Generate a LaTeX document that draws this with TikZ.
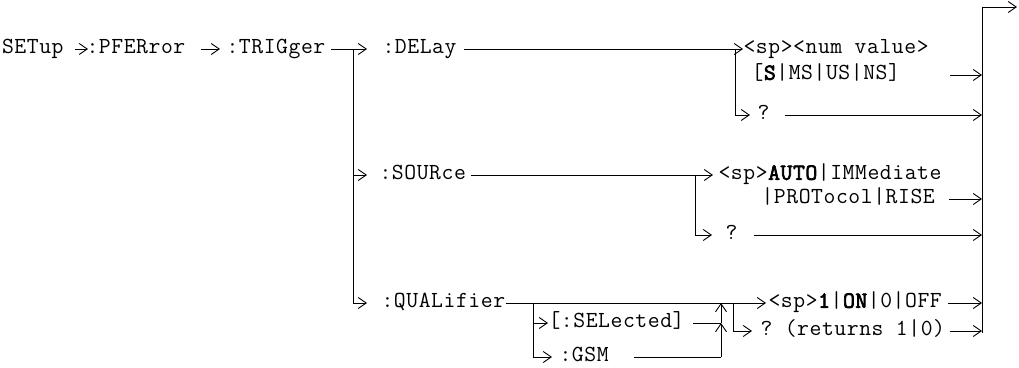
\documentclass[tikz,border=0pt]{standalone}
\usepackage{fontspec}
\setmonofont{Latin Modern Mono}[LetterSpace=2.5,AutoFakeBold=3]
\usetikzlibrary{arrows.meta}
\begin{document}
\begin{tikzpicture}[x=1pt,y=-1pt,line width=1pt,
  kw/.style={anchor=west,inner sep=0pt,text height=14pt,text depth=4.5pt,
    font=\ttfamily\fontsize{23}{26}\selectfont},
  arr/.style={-{Straight Barb[length=8pt,width=11pt,line width=0.9pt]}}]
\useasboundingbox (0,0) rectangle (1019,367);
% command words
\node[kw] (setup) at (1.5,49) {SETup};
\node[kw] (pferr) at (86,49) {:PFERror};
\node[kw] (trig) at (226,49) {:TRIGger};
\node[kw] (delay) at (382,49) {:DELay};
\node[kw] (source) at (379,175) {:SOURce};
\node[kw] (qual) at (381,303) {:QUALifier};
\node[kw] (sel) at (548,323) {[:SELected]};
\node[kw] (gsm) at (559,357) {:GSM};
% parameters
\node[kw] (numval) at (743,49) {<sp><num value>};
\node[kw] (units) at (751,75) {[\textbf{S}|MS|US|NS]};
\node[kw] (dq) at (757,115) {?};
\node[kw] (auto) at (718,175) {<sp>\textbf{AUTO}|IMMediate};
\node[kw] (proto) at (761,199) {|PROTocol|RISE};
\node[kw] (sq) at (725,235) {?};
\node[kw] (onoff) at (768,303) {<sp>\textbf{1}|\textbf{ON}|0|OFF};
\node[kw] (ret) at (760,331) {? (returns 1|0)};
% branch points and the bus
\coordinate (tj) at (353,49);
\coordinate (dj) at (735,49);
\coordinate (sj) at (695,175);
\coordinate (qa) at (533,303);
\coordinate (qm) at (721,303);
\coordinate (qr) at (733,303);
\coordinate (bt) at (982,7);
\coordinate (bb) at (982,333);
\coordinate (out) at (1017,7);
% path
\draw[arr,shorten <=11pt,shorten >=-2pt] (setup) -- (pferr);
\draw[arr,shorten <=15pt,shorten >=6pt] (pferr) -- (trig.west);
\draw[arr,shorten <=5pt,shorten >=15pt] (trig.east) -- (delay.west);
\draw (tj) -- (qual.west -| tj);
\draw[arr,shorten >=12pt] (source.west -| tj) -- (source.west);
\draw[arr,shorten >=14pt] (qual.west -| tj) -- (qual.west);
% :DELay
\draw[shorten <=7pt] (delay.east) -- (dj);
\draw[arr] (dj) -- (numval.west);
\draw (dj) -- (dq.west -| dj);
\draw[arr,shorten >=7pt] (dq.west -| dj) -- (dq.west);
% :SOURce
\draw[shorten <=5pt] (source.east) -- (sj);
\draw[arr,shorten >=5pt] (sj) -- (auto.west);
\draw (sj) -- (sq.west -| sj);
\draw[arr,shorten >=13pt] (sq.west -| sj) -- (sq.west);
% :QUALifier
\draw[arr,shorten >=2pt] (qual.east) -- (onoff.west);
\draw (qa) -- (gsm.west -| qa);
\draw[arr] (sel.west -| qa) -- (sel.west);
\draw[arr,shorten >=7pt] (gsm.west -| qa) -- (gsm.west);
\draw[shorten <=8pt] (sel.east) -- (sel.east -| qm);
\draw[shorten <=25pt] (gsm.east) -- (gsm.east -| qm);
\draw[arr] (gsm.east -| qm) -- (sel.east -| qm);
\draw[arr] (sel.east -| qm) -- (qm);
\draw (qr) -- (ret.west -| qr);
\draw[arr,shorten >=8pt] (ret.west -| qr) -- (ret.west);
% into the bus
\draw[arr,shorten <=50pt] (units.east) -- (units.east -| bb);
\draw[arr,shorten <=15pt] (dq.east) -- (dq.east -| bb);
\draw[arr,shorten <=14pt] (proto.east) -- (proto.east -| bb);
\draw[arr,shorten <=16pt] (sq.east) -- (sq.east -| bb);
\draw[arr,shorten <=6pt] (onoff.east) -- (onoff.east -| bb);
\draw[arr,shorten <=4pt] (ret.east) -- (ret.east -| bb);
\draw[arr] (bb) -- (bt) -- (out);
\end{tikzpicture}
\end{document}
